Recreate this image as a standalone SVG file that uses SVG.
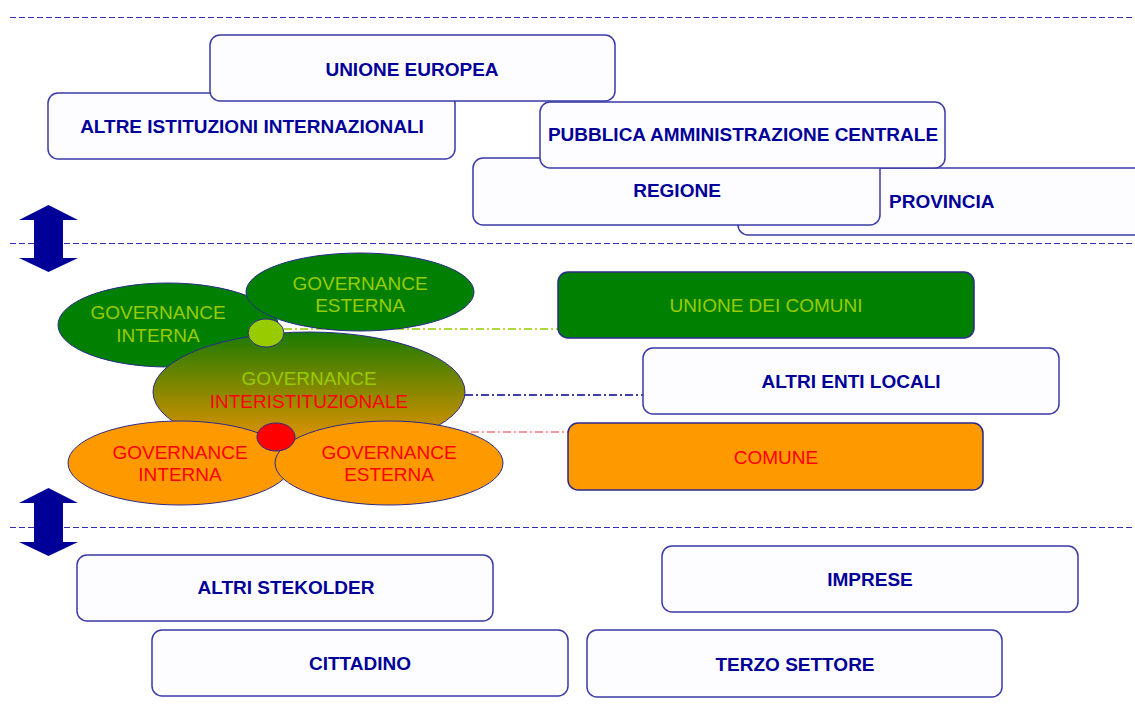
<svg xmlns="http://www.w3.org/2000/svg" width="1135" height="711" viewBox="0 0 1135 711">
<style>
.box{fill:#fdfdff;stroke:#3a3aa8;stroke-width:1.5}
.lbl{font-family:"Liberation Sans",Arial,sans-serif;font-size:19px;font-weight:bold;fill:#000099;text-anchor:middle}
.el{font-family:"Liberation Sans",Arial,sans-serif;font-size:19px;text-anchor:middle}
.sep{stroke:#2f2fb0;stroke-width:1.2;stroke-dasharray:6 3;fill:none}
.ell{stroke:#2a2a8a;stroke-width:1}
.lg{fill:#99cc00}
.rd{fill:#ff0000}
.arrow{fill:#000099}
</style>
<defs>
<linearGradient id="gInter" x1="0" y1="0" x2="0" y2="1">
<stop offset="0" stop-color="#1a7a00"/>
<stop offset="0.5" stop-color="#8a8800"/>
<stop offset="1" stop-color="#f59400"/>
</linearGradient>
</defs>
<rect width="1135" height="711" fill="#ffffff"/>
<g id="separators">
<line class="sep" x1="10" y1="17.5" x2="1135" y2="17.5"/>
<line class="sep" x1="10" y1="243.5" x2="1135" y2="243.5"/>
<line class="sep" x1="10" y1="527.5" x2="1135" y2="527.5"/>
</g>
<g id="arrow-top">
<polygon class="arrow" points="48.5,205 78,220 63,220 63,258 78,258 48.5,272 19,258 34,258 34,220 19,220"/>
</g>
<g id="arrow-bottom">
<polygon class="arrow" points="48.5,488 78,503 63,503 63,542 78,542 48.5,556 19,542 34,542 34,503 19,503"/>
</g>
<g id="altre-istituzioni">
<rect class="box" x="48" y="93" width="407" height="66" rx="10"/>
<text class="lbl" x="252" y="133">ALTRE ISTITUZIONI INTERNAZIONALI</text>
</g>
<g id="unione-europea">
<rect class="box" x="210" y="35" width="405" height="66" rx="10"/>
<text class="lbl" x="412" y="76">UNIONE EUROPEA</text>
</g>
<g id="provincia">
<rect class="box" x="738" y="168" width="420" height="67" rx="10"/>
<text class="lbl" x="889" y="208" style="text-anchor:start">PROVINCIA</text>
</g>
<g id="regione">
<rect class="box" x="473" y="158" width="407" height="67" rx="10"/>
<text class="lbl" x="677" y="197">REGIONE</text>
</g>
<g id="pubblica-amministrazione">
<rect class="box" x="540" y="102" width="405" height="66" rx="10"/>
<text class="lbl" x="743" y="141">PUBBLICA AMMINISTRAZIONE CENTRALE</text>
</g>
<g id="connectors">
<line x1="284" y1="329" x2="558" y2="329" stroke="#99cc00" stroke-width="1.4" stroke-dasharray="8 3 2 3"/>
<line x1="465" y1="395" x2="643" y2="395" stroke="#000099" stroke-width="1.4" stroke-dasharray="8 3 2 3"/>
<line x1="295" y1="432" x2="568" y2="432" stroke="#ff3333" stroke-width="1" stroke-dasharray="8 3 2 3"/>
</g>
<g id="gov-interna-verde">
<ellipse class="ell" cx="168" cy="325" rx="110" ry="42" fill="#007f00"/>
<text class="el lg" x="158" y="319">GOVERNANCE</text>
<text class="el lg" x="158" y="342">INTERNA</text>
</g>
<g id="gov-esterna-verde">
<ellipse class="ell" cx="360" cy="292" rx="114" ry="39" fill="#007f00"/>
<text class="el lg" x="360" y="290">GOVERNANCE</text>
<text class="el lg" x="360" y="312">ESTERNA</text>
</g>
<g id="gov-interistituzionale">
<ellipse class="ell" cx="309" cy="392" rx="156" ry="60" fill="url(#gInter)"/>
<text class="el lg" x="309" y="385">GOVERNANCE</text>
<text class="el rd" x="309" y="408">INTERISTITUZIONALE</text>
</g>
<g id="nodo-verde">
<ellipse class="ell" cx="266" cy="333" rx="18" ry="14" fill="#99cc00"/>
</g>
<g id="gov-interna-arancio">
<ellipse class="ell" cx="180" cy="463" rx="112" ry="42" fill="#ff9900"/>
<text class="el rd" x="180" y="459">GOVERNANCE</text>
<text class="el rd" x="180" y="481">INTERNA</text>
</g>
<g id="gov-esterna-arancio">
<ellipse class="ell" cx="389" cy="463" rx="114" ry="42" fill="#ff9900"/>
<text class="el rd" x="389" y="459">GOVERNANCE</text>
<text class="el rd" x="389" y="481">ESTERNA</text>
</g>
<g id="nodo-rosso">
<ellipse class="ell" cx="276" cy="437" rx="19" ry="14" fill="#ff0000"/>
</g>
<g id="unione-comuni">
<rect x="558" y="272" width="416" height="66" rx="10" fill="#008000" stroke="#2a2a8a" stroke-width="1.5"/>
<text class="el lg" x="766" y="312">UNIONE DEI COMUNI</text>
</g>
<g id="altri-enti-locali">
<rect class="box" x="643" y="348" width="416" height="66" rx="10"/>
<text class="lbl" x="851" y="388">ALTRI ENTI LOCALI</text>
</g>
<g id="comune">
<rect x="568" y="423" width="415" height="67" rx="10" fill="#ff9900" stroke="#2a2a8a" stroke-width="1.5"/>
<text class="el rd" x="776" y="464">COMUNE</text>
</g>
<g id="altri-stekolder">
<rect class="box" x="77" y="555" width="416" height="66" rx="10"/>
<text class="lbl" x="286" y="594">ALTRI STEKOLDER</text>
</g>
<g id="imprese">
<rect class="box" x="662" y="546" width="416" height="66" rx="10"/>
<text class="lbl" x="870" y="586">IMPRESE</text>
</g>
<g id="cittadino">
<rect class="box" x="152" y="630" width="416" height="66" rx="10"/>
<text class="lbl" x="360" y="670">CITTADINO</text>
</g>
<g id="terzo-settore">
<rect class="box" x="587" y="630" width="415" height="67" rx="10"/>
<text class="lbl" x="795" y="671">TERZO SETTORE</text>
</g>
</svg>
